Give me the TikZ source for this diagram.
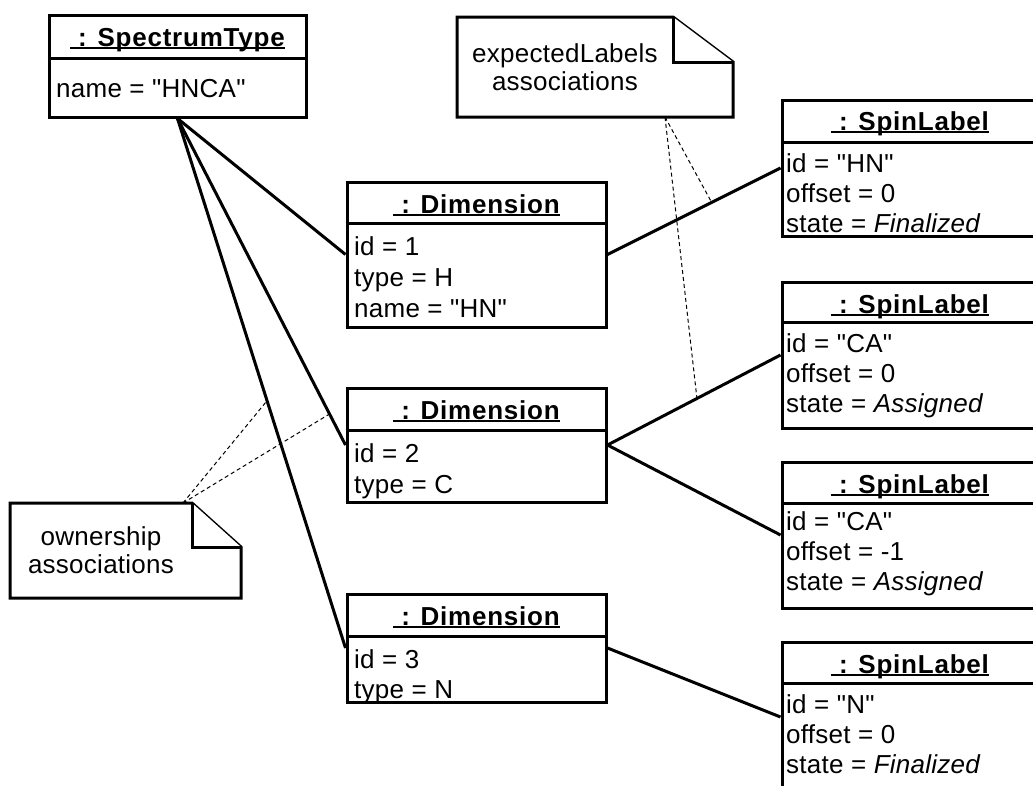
\documentclass[tikz,border=0pt]{standalone}
\usepackage{fontspec}
\setmainfont[LetterSpace=1,Ligatures=TeXOff]{Liberation Sans}
\newfontfamily\ttlfont[LetterSpace=3,Ligatures=TeXOff]{Liberation Sans}
\newcommand\ultitle[1]{\setbox0\hbox{#1}\rlap{\rule[-3pt]{\wd0}{2pt}}\box0}
\begin{document}
\begin{tikzpicture}[x=1pt,y=-1pt,
  every node/.style={font=\fontsize{26}{30}\selectfont},
  box/.style={draw, line width=3pt, rectangle, inner sep=0pt, fill=white},
  conn/.style={line width=3pt},
  dashlink/.style={line width=1pt, dash pattern=on 4pt off 3pt},
  notebox/.style={line width=3pt, line join=miter, fill=white},
  ttl/.style={anchor=base, inner sep=0pt, font=\fontsize{26}{30}\selectfont\ttlfont\bfseries},
  attr/.style={anchor=base west, inner sep=0pt},
  notetxt/.style={anchor=base, inner sep=0pt}]
\useasboundingbox (0,0) rectangle (1033,785);
\clip (0,0) rectangle (1033,785);

% object boxes
\node[box, minimum width=257pt, minimum height=102pt] (st) at (177.5,66) {};
\node[box, minimum width=259pt, minimum height=145pt] (d1) at (476.5,254.5) {};
\node[box, minimum width=259pt, minimum height=114pt] (d2) at (476.5,445) {};
\node[box, minimum width=259pt, minimum height=108pt] (d3) at (476.5,648) {};
\node[box, minimum width=258pt, minimum height=136pt] (sl1) at (911,168) {};
\node[box, minimum width=258pt, minimum height=146pt] (sl2) at (911,355) {};
\node[box, minimum width=258pt, minimum height=146pt] (sl3) at (911,535) {};
\node[box, minimum width=258pt, minimum height=150pt] (sl4) at (911,717) {};

% compartment dividers
\draw[line width=3pt] (st.west |- 0,58) -- (st.east |- 0,58);
\draw[line width=3pt] (d1.west |- 0,223) -- (d1.east |- 0,223);
\draw[line width=3pt] (d2.west |- 0,430) -- (d2.east |- 0,430);
\draw[line width=3pt] (d3.west |- 0,636) -- (d3.east |- 0,636);
\draw[line width=3pt] (sl1.west |- 0,142) -- (sl1.east |- 0,142);
\draw[line width=3pt] (sl2.west |- 0,322) -- (sl2.east |- 0,322);
\draw[line width=3pt] (sl3.west |- 0,503) -- (sl3.east |- 0,503);
\draw[line width=3pt] (sl4.west |- 0,683) -- (sl4.east |- 0,683);

% titles
\node[ttl] (stt) at (177.5,46) {\ultitle{\ : SpectrumType}};
\node[ttl] (d1t) at (476.5,213) {\ultitle{\ : Dimension}};
\node[ttl] (d2t) at (476.5,419) {\ultitle{\ : Dimension}};
\node[ttl] (d3t) at (476.5,625) {\ultitle{\ : Dimension}};
\node[ttl] (sl1t) at (910,130) {\ultitle{\ : SpinLabel}};
\node[ttl] (sl2t) at (910,313) {\ultitle{\ : SpinLabel}};
\node[ttl] (sl3t) at (910,493) {\ultitle{\ : SpinLabel}};
\node[ttl] (sl4t) at (910,673) {\ultitle{\ : SpinLabel}};

% attributes
\node[attr] (sta) at (56,97) {name = "HNCA"};
\node[attr] (d1a) at (354,255) {id = 1};
\node[attr] (d1b) at (354,286) {type = H};
\node[attr] (d1c) at (354,317) {name = "HN"};
\node[attr] (d2a) at (354,462) {id = 2};
\node[attr] (d2b) at (354,493) {type = C};
\node[attr] (d3a) at (354,668) {id = 3};
\node[attr] (d3b) at (354,698) {type = N};
\node[attr] (s1a) at (786,172) {id = "HN"};
\node[attr] (s1b) at (786,202) {offset = 0};
\node[attr] (s1c) at (786,232) {state = \textit{Finalized}};
\node[attr] (s2a) at (786,352) {id = "CA"};
\node[attr] (s2b) at (786,382) {offset = 0};
\node[attr] (s2c) at (786,412) {state = \textit{Assigned}};
\node[attr] (s3a) at (786,530) {id = "CA"};
\node[attr] (s3b) at (786,560) {offset = -1};
\node[attr] (s3c) at (786,590) {state = \textit{Assigned}};
\node[attr] (s4a) at (786,713) {id = "N"};
\node[attr] (s4b) at (786,743) {offset = 0};
\node[attr] (s4c) at (786,773) {state = \textit{Finalized}};

% links
\draw[conn] (st.south) -- (d1.west);
\draw[conn] (st.south) -- coordinate[pos=0.905] (p2) (d2.west);
\draw[conn] (st.south) -- coordinate[pos=0.533] (p3) (d3.west);
\draw[conn] (d1.east) -- coordinate[pos=0.602] (q1) (sl1.west);
\draw[conn] (d2.east) -- coordinate[pos=0.517] (q2) (sl2.west);
\draw[conn] (d2.east) -- (sl3.west);
\draw[conn] (d3.east) -- (sl4.west);

% notes
\draw[notebox] (457,17) -- (673,17) -- (733,62) -- (733,117) -- (457,117) -- cycle;
\draw[notebox] (673,17) -- (673,62) -- (733,62);
\node[notetxt] (en1) at (565,62) {expectedLabels};
\node[notetxt] (en2) at (565,90) {associations};
\coordinate (enp) at (665,117);

\draw[notebox] (10,503) -- (192,503) -- (241,547) -- (241,598) -- (10,598) -- cycle;
\draw[notebox] (192,503) -- (192,547) -- (241,547);
\node[notetxt] (on1) at (101,545) {ownership};
\node[notetxt] (on2) at (101,573) {associations};
\coordinate (onp) at (183,503);

% anchor lines
\draw[dashlink] (enp) -- (q1);
\draw[dashlink] (enp) -- (q2);
\draw[dashlink] (onp) -- (p2);
\draw[dashlink] (onp) -- (p3);
\end{tikzpicture}
\end{document}
